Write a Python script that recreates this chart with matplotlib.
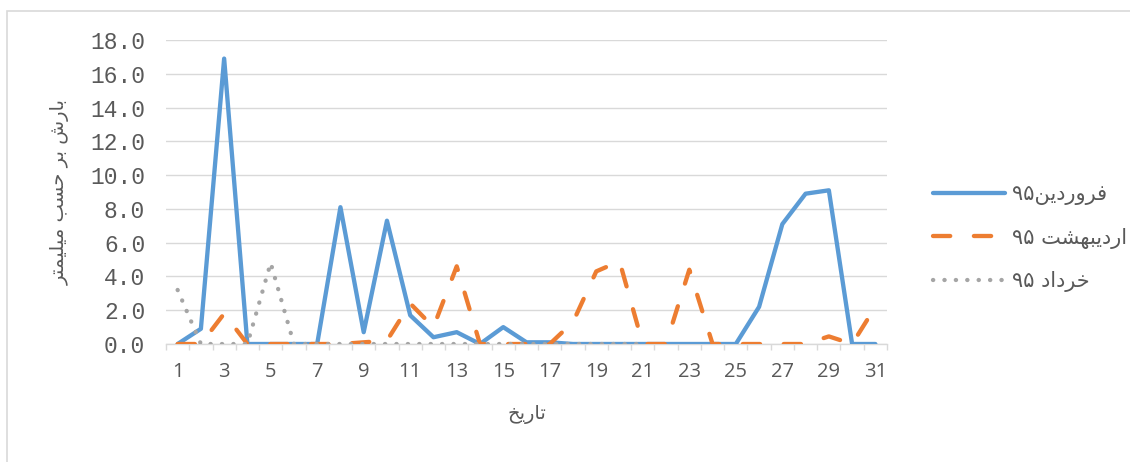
import re
import matplotlib
matplotlib.use("Agg")
import matplotlib.pyplot as plt
from matplotlib.ticker import FixedLocator, FormatStrFormatter
from matplotlib.patches import Rectangle

# داده‌های بارش روزانه (میلیمتر)
days = list(range(1, 32))
farvardin = [0, 0.9, 16.9, 0, 0, 0, 0, 8.1, 0.7, 7.3, 1.7, 0.4, 0.7, 0, 1.0, 0.1,
             0.1, 0, 0, 0, 0, 0, 0, 0, 0, 2.2, 7.1, 8.9, 9.1, 0, 0]
ordibehesht = [0, 0, 1.8, 0, 0, 0, 0, 0, 0.1, 0.2, 2.4, 1.0, 4.6, 0, 0, 0,
               0, 1.3, 4.3, 4.9, 0, 0, 4.4, 0, 0, 0, 0, 0, 0.45, 0, 2.2]
khordad_days = list(range(1, 22))
khordad = [3.2, 0, 0, 0, 4.8, 0, 0, 0, 0, 0, 0, 0, 0, 0, 0, 0, 0, 0, 0, 0, 0]

series_names = ["فروردین۹۵", "اردیبهشت ۹۵", "خرداد ۹۵"]
x_title = "تاریخ"
y_title = "بارش بر حسب میلیمتر"
x_ticks = list(range(1, 32, 2))

# matplotlib متن فارسی را شکل‌دهی نمی‌کند، پس فرم‌های نمایشی را دستی می‌سازیم
FORMS = {
    "ا": "\ufe8d\ufe8e", "د": "\ufea9\ufeaa", "ر": "\ufead\ufeae", "و": "\ufeed\ufeee",
    "ب": "\ufe8f\ufe90\ufe91\ufe92", "ت": "\ufe95\ufe96\ufe97\ufe98",
    "ح": "\ufea1\ufea2\ufea3\ufea4", "خ": "\ufea5\ufea6\ufea7\ufea8",
    "س": "\ufeb1\ufeb2\ufeb3\ufeb4", "ش": "\ufeb5\ufeb6\ufeb7\ufeb8",
    "ف": "\ufed1\ufed2\ufed3\ufed4", "ل": "\ufedd\ufede\ufedf\ufee0",
    "م": "\ufee1\ufee2\ufee3\ufee4", "ن": "\ufee5\ufee6\ufee7\ufee8",
    "ه": "\ufee9\ufeea\ufeeb\ufeec", "ی": "\ufbfc\ufbfd\ufbfe\ufbff",
}


def fa(s):
    out = []
    for i, c in enumerate(s):
        if c not in FORMS:
            out.append(c)
            continue
        f = FORMS[c]
        prev = s[i - 1] if i > 0 else ""
        nxt = s[i + 1] if i + 1 < len(s) else ""
        jp = prev in FORMS and len(FORMS[prev]) == 4
        jn = len(f) == 4 and nxt in FORMS
        if jp and jn:
            out.append(f[3])
        elif jp:
            out.append(f[1])
        elif jn:
            out.append(f[2])
        else:
            out.append(f[0])
    vis = "".join(out)[::-1]
    return re.sub(r"[۰-۹0-9]+", lambda m: m.group(0)[::-1], vis)


txt = "#595959"
grid = "#d9d9d9"
ar_font = ["DejaVu Sans"]

fig = plt.figure(figsize=(11.3, 4.62), dpi=100)
ax = fig.add_axes([166 / 1130, 118 / 462, 721 / 1130, 304 / 462])

lw = 3.1
ax.plot(days, farvardin, color="#5B9BD5", lw=lw, solid_capstyle="round",
        solid_joinstyle="round", label=fa(series_names[0]), zorder=3)
ax.plot(days, ordibehesht, color="#ED7D31", lw=lw, linestyle=(0, (4, 5.5)),
        dash_capstyle="round", dash_joinstyle="round", label=fa(series_names[1]), zorder=4)
ax.plot(khordad_days, khordad, color="#A5A5A5", lw=lw, linestyle=(0, (0.05, 2.6)),
        dash_capstyle="round", label=fa(series_names[2]), zorder=5)

ax.set_xlim(0.5, 31.5)
ax.set_ylim(0, 18)
ax.set_yticks(range(0, 19, 2))
ax.yaxis.set_major_formatter(FormatStrFormatter("%.1f"))
ax.set_xticks(x_ticks)
ax.xaxis.set_minor_locator(FixedLocator([d + 0.5 for d in range(0, 32)]))

ax.grid(axis="y", color=grid, lw=1.0, zorder=0)
ax.set_axisbelow(True)
for s in ["top", "right", "left"]:
    ax.spines[s].set_visible(False)
ax.spines["bottom"].set_color(grid)
ax.spines["bottom"].set_linewidth(1.0)

ax.tick_params(axis="y", length=0, pad=15, labelsize=16.5, labelcolor=txt)
ax.tick_params(axis="x", which="major", length=0, pad=13, labelsize=14.5, labelcolor=txt)
ax.tick_params(axis="x", which="minor", length=4.5, width=1.0, color=grid)
for lab in ax.get_yticklabels():
    lab.set_family("Liberation Mono")
for lab in ax.get_xticklabels():
    lab.set_family("Open Sans")

ax.set_xlabel(fa(x_title), family=ar_font, fontsize=14, color=txt, va="center")
ax.xaxis.set_label_coords(0.5, -70 / 304)
ax.set_ylabel(fa(y_title), family=ar_font, fontsize=14, color=txt, va="center")
ax.yaxis.set_label_coords(-106 / 721, 0.5)

leg = fig.legend(loc="center left", bbox_to_anchor=(914 / 1130, (462 - 238) / 462),
                 frameon=False, handlelength=3.45, handletextpad=0.34,
                 labelspacing=1.07, prop={"family": ar_font, "size": 15})
for t in leg.get_texts():
    t.set_color(txt)

# کادر بیرونی نمودار
fig.patches.append(Rectangle((7 / 1130, -0.1), 1.2, (462 - 11) / 462 + 0.1,
                             transform=fig.transFigure, fill=False,
                             edgecolor=grid, lw=1.2, clip_on=False))

fig.savefig("out.png", dpi=100)
